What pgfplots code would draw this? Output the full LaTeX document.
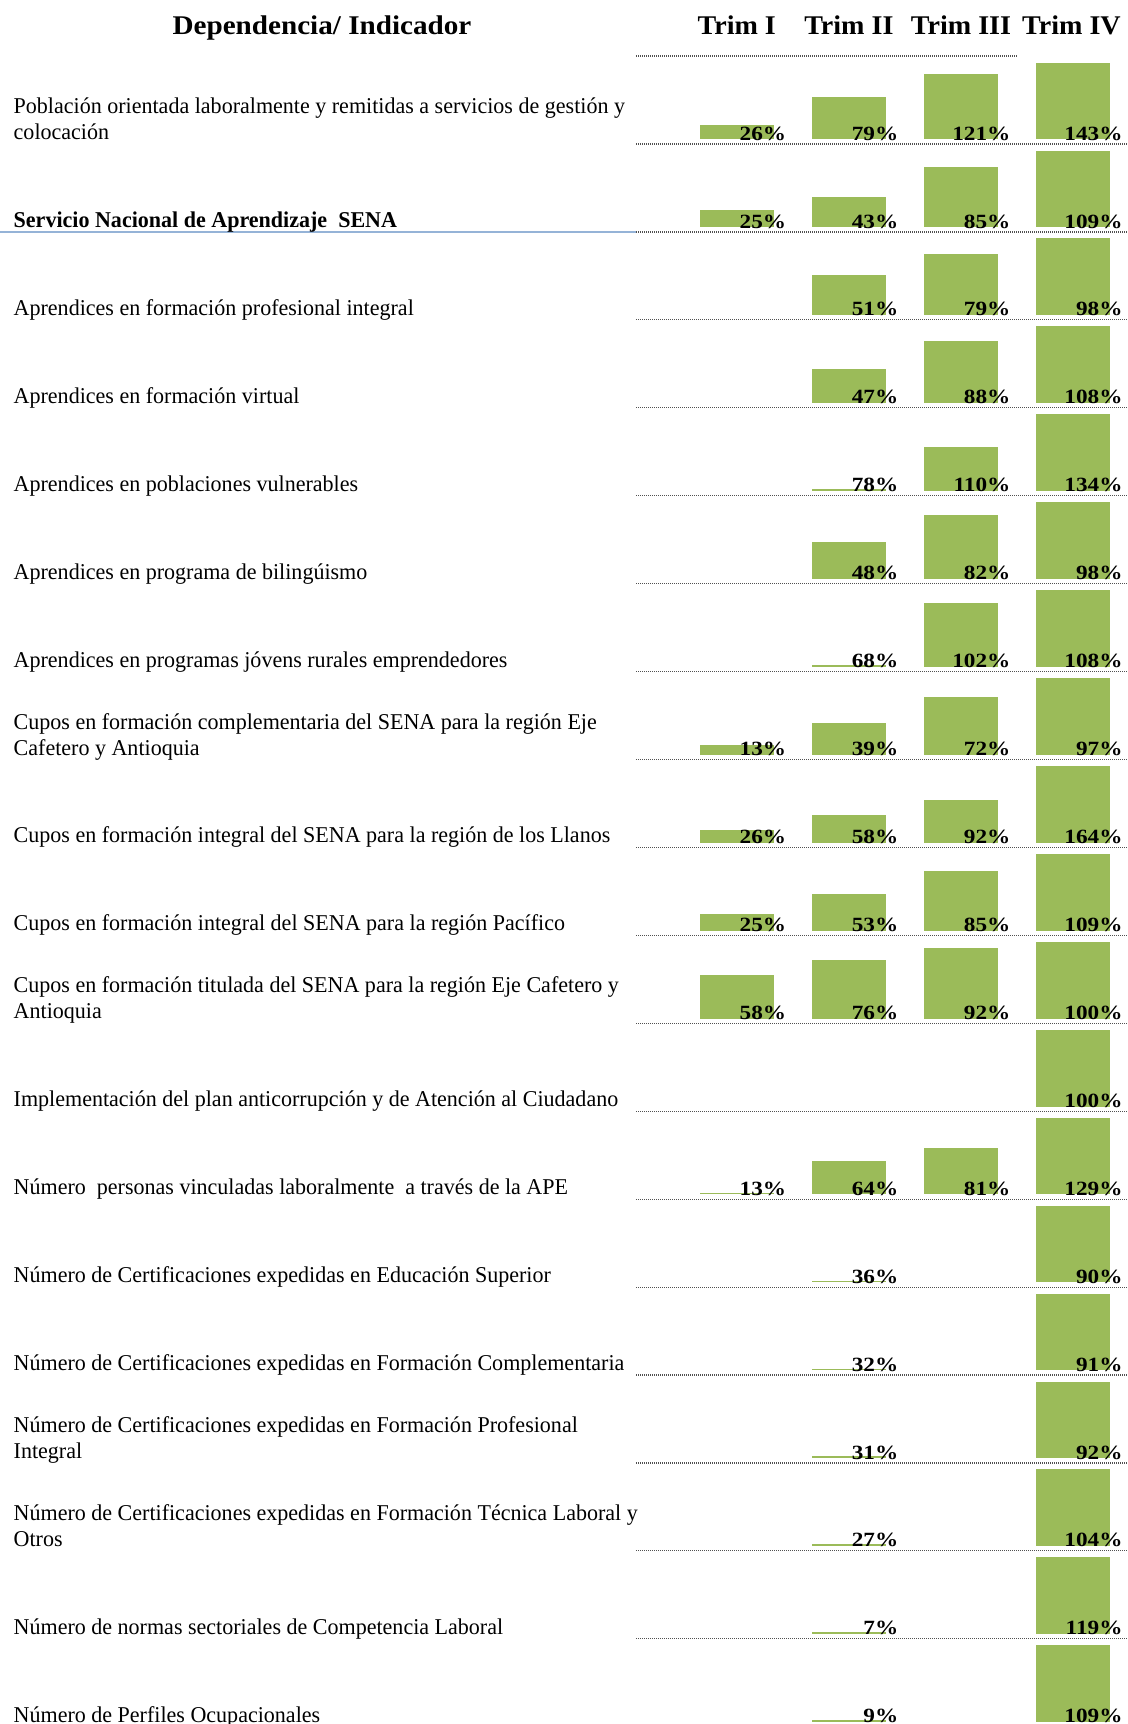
\documentclass[border=0pt]{standalone}
\usepackage{fontspec}
\setmainfont{Liberation Serif}[FakeStretch=0.975]
\newfontfamily\hdfont{Liberation Serif}[FakeStretch=1.04]
\newfontfamily\dpfont{Liberation Serif}[FakeStretch=1.08]
\newfontfamily\pctfont{Liberation Serif}[FakeStretch=1.15]
\usepackage{pgfplots}
\pgfplotsset{compat=1.18}
\definecolor{barg}{HTML}{9BBB59}
\definecolor{bline}{HTML}{95B3D7}
\definecolor{dline}{HTML}{505050}
\tikzset{
  rl/.style={anchor=base west,inner sep=0pt,font=\fontsize{11.3}{13}\selectfont},
  pl/.style={anchor=base east,inner sep=0pt,font=\pctfont\fontsize{10.1}{11}\selectfont\bfseries},
  hd/.style={anchor=base,inner sep=0pt,font=\hdfont\fontsize{13.5}{15}\selectfont\bfseries}}
% row r has its bottom rule at y = 144 + (r-1)*87.93 (pixels from top)
\newcommand\rowlab[3]{%
  \pgfmathsetmacro\yy{144+(#1-1)*87.93-#2}%
  \edef\tmp{\noexpand\node[rl] at (axis cs:13.3,\yy)}\tmp{#3};}
\def\splitpf#1:#2\relax{\def\p{#1}\def\f{#2}}
\newcommand\bars[2]{%
  \pgfplotsforeachungrouped \r/\pf in {#2}{%
    \expandafter\splitpf\pf\relax
    \pgfmathsetmacro\yb{144+(\r-1)*87.93-4.7}%
    \pgfmathsetmacro\yt{\yb-max(\f*76.7,1.8)}%
    \pgfmathsetmacro\xl{700+(#1-1)*112.1}%
    \pgfmathsetmacro\xr{\xl+73.7}%
    \pgfmathsetmacro\xt{\xr+12.9}%
    \pgfmathsetmacro\ylab{\yb+0.8}%
    \edef\tmp{\noexpand\addplot[fill=barg,draw=none,forget plot] coordinates {(\xl,\yb) (\xl,\yt) (\xr,\yt) (\xr,\yb)} -- cycle;
      \noexpand\node[pl] at (axis cs:\xt,\ylab) {\p\noexpand\%};}%
    \tmp}}
\begin{document}
\begin{tikzpicture}
\begin{axis}[width=564pt,height=862pt,scale only axis,
  xmin=0,xmax=1128,ymin=0,ymax=1724,y dir=reverse,hide axis,clip=false]
% headers
\node[hd,font=\dpfont\fontsize{13.5}{15}\selectfont\bfseries] at (axis cs:322,34.3) {Dependencia/ Indicador};
\node[hd] at (axis cs:736.8,34.3) {Trim I};
\node[hd] at (axis cs:848.9,34.3) {Trim II};
\node[hd] at (axis cs:961.0,34.3) {Trim III};
\node[hd] at (axis cs:1071.5,34.3) {Trim IV};
% rules
\draw[dline,line width=0.6pt,dash pattern=on 0.5pt off 0.5pt] (axis cs:636,56) -- (axis cs:1018,56);
\pgfplotsforeachungrouped \r in {1,...,18}{%
  \pgfmathsetmacro\yy{144+(\r-1)*87.93}%
  \edef\tmp{\noexpand\draw[dline,line width=0.6pt,dash pattern=on 0.5pt off 0.5pt] (axis cs:636,\yy) -- (axis cs:1128,\yy);}\tmp}
\draw[bline,line width=1pt] (axis cs:0,231.7) -- (axis cs:636,231.7);
% row labels
\rowlab{1}{30.5}{Población orientada laboralmente y remitidas a servicios de gestión y}
\rowlab{1}{4.5}{colocación}
\rowlab{2}{4.5}{\bfseries Servicio Nacional de Aprendizaje\ \ SENA}
\rowlab{3}{4.5}{Aprendices en formación profesional integral}
\rowlab{4}{4.5}{Aprendices en formación virtual}
\rowlab{5}{4.5}{Aprendices en poblaciones vulnerables}
\rowlab{6}{4.5}{Aprendices en programa de bilingúismo}
\rowlab{7}{4.5}{Aprendices en programas jóvens rurales emprendedores}
\rowlab{8}{30.5}{Cupos en formación complementaria del SENA para la región Eje}
\rowlab{8}{4.5}{Cafetero y Antioquia}
\rowlab{9}{4.5}{Cupos en formación integral del SENA para la región de los Llanos}
\rowlab{10}{4.5}{Cupos en formación integral del SENA para la región Pacífico}
\rowlab{11}{30.5}{Cupos en formación titulada del SENA para la región Eje Cafetero y}
\rowlab{11}{4.5}{Antioquia}
\rowlab{12}{4.5}{Implementación del plan anticorrupción y de Atención al Ciudadano}
\rowlab{13}{4.5}{Número\ \ personas vinculadas laboralmente\ \ a través de la APE}
\rowlab{14}{4.5}{Número de Certificaciones expedidas en Educación Superior}
\rowlab{15}{4.5}{Número de Certificaciones expedidas en Formación Complementaria}
\rowlab{16}{30.5}{Número de Certificaciones expedidas en Formación Profesional}
\rowlab{16}{4.5}{Integral}
\rowlab{17}{30.5}{Número de Certificaciones expedidas en Formación Técnica Laboral y}
\rowlab{17}{4.5}{Otros}
\rowlab{18}{4.5}{Número de normas sectoriales de Competencia Laboral}
\rowlab{19}{4.5}{Número de Perfiles Ocupacionales}
% bars: row / percent : bar height as fraction of the full cell
\bars{1}{1/26:0.186, 2/25:0.226, 8/13:0.129, 9/26:0.17, 10/25:0.215, 11/58:0.57, 13/13:0}
\bars{2}{1/79:0.555, 2/43:0.39, 3/51:0.52, 4/47:0.45, 5/78:0, 6/48:0.48, 7/68:0, 8/39:0.42, 9/58:0.36, 10/53:0.48, 11/76:0.76, 13/64:0.44, 14/36:0, 15/32:0, 16/31:0, 17/27:0, 18/7:0, 19/9:0}
\bars{3}{1/121:0.85, 2/85:0.78, 3/79:0.80, 4/88:0.81, 5/110:0.57, 6/82:0.83, 7/102:0.83, 8/72:0.75, 9/92:0.56, 10/85:0.78, 11/92:0.92, 13/81:0.60}
\bars{4}{1/143:1, 2/109:1, 3/98:1, 4/108:1, 5/134:1, 6/98:1, 7/108:1, 8/97:1, 9/164:1, 10/109:1, 11/100:1, 12/100:1, 13/129:1, 14/90:1, 15/91:1, 16/92:1, 17/104:1, 18/119:1, 19/109:1}
\end{axis}
\pgfresetboundingbox
\path[use as bounding box] (current axis.south west) rectangle (current axis.north east);
\end{tikzpicture}
\end{document}
